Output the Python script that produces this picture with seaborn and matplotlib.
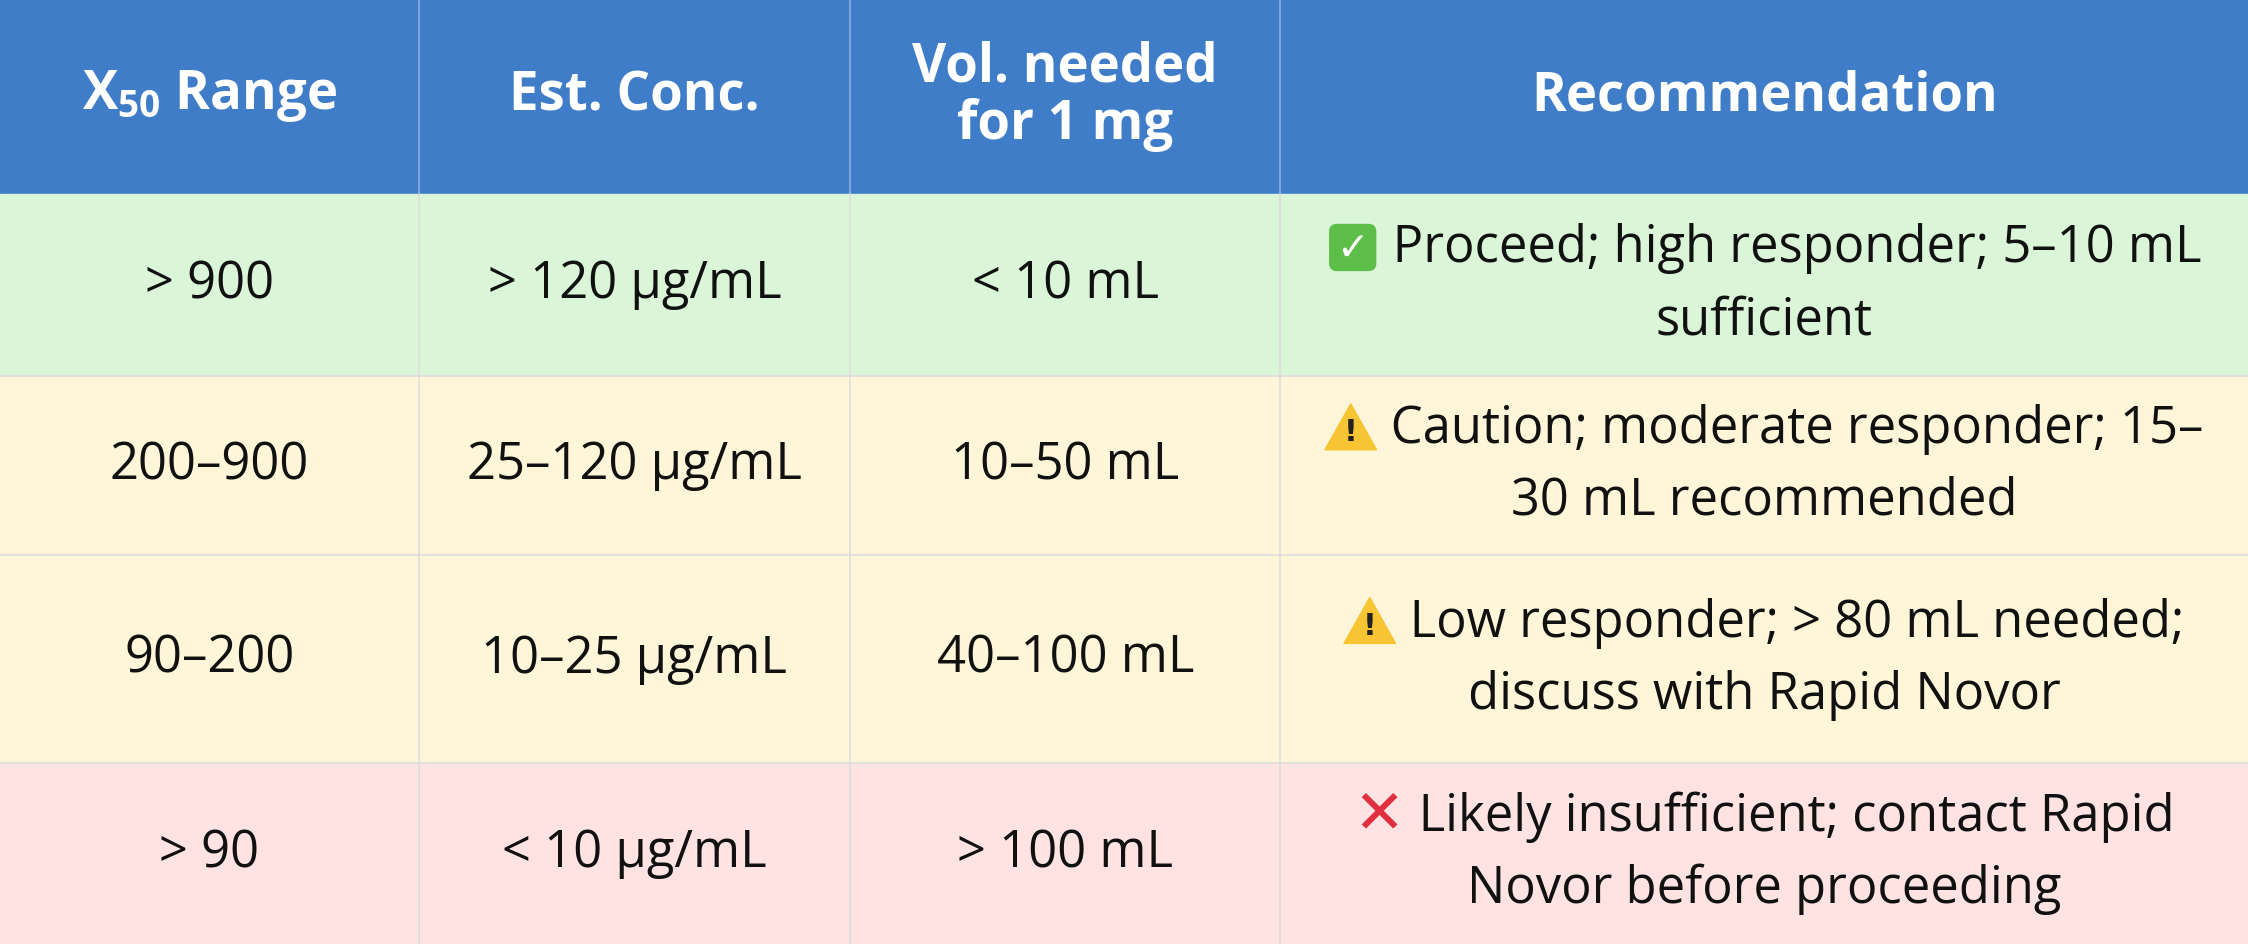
import matplotlib
matplotlib.use("Agg")
import matplotlib.pyplot as plt
import seaborn as sns
from matplotlib.patches import Rectangle, FancyBboxPatch, Polygon

sns.set_theme(style="white")
plt.rcParams['font.family'] = ['Open Sans', 'DejaVu Sans']
plt.rcParams['mathtext.fontset'] = 'custom'
plt.rcParams['mathtext.rm'] = 'Open Sans:bold'
plt.rcParams['mathtext.default'] = 'rm'

headers = ["X$_{50}$ Range", "Est. Conc.", "Vol. needed\nfor 1 mg", "Recommendation"]
x50 = ["> 900", "200–900", "90–200", "> 90"]
conc = ["> 120 µg/mL", "25–120 µg/mL", "10–25 µg/mL", "< 10 µg/mL"]
vol = ["< 10 mL", "10–50 mL", "40–100 mL", "> 100 mL"]
icons = ["check", "warn", "warn", "cross"]
rec = [["Proceed; high responder; 5–10 mL", "sufficient"],
       ["Caution; moderate responder; 15–", "30 mL recommended"],
       ["Low responder; > 80 mL needed;", "discuss with Rapid Novor"],
       ["Likely insufficient; contact Rapid", "Novor before proceeding"]]
row_colors = ["#DAF5D8", "#FFF6DA", "#FFF6DA", "#FFE3E3"]

col_edges = [0, 292, 593, 893, 1568]
row_edges = [0, 135, 262, 387, 532, 658]

fig = plt.figure(figsize=(22.48, 9.44), dpi=100)
ax = fig.add_axes([0, 0, 1, 1])
ax.set_xlim(0, 1568)
ax.set_ylim(658, 0)
ax.axis("off")

FS = 36.5
HFS = 38
ax.add_patch(Rectangle((0, 0), 1568, 135, color="#3F7DC8", zorder=0))
for j, h in enumerate(headers):
    cx = (col_edges[j] + col_edges[j+1]) / 2
    ax.text(cx, 67, h, ha="center", va="center", fontsize=HFS, fontweight="bold",
            color="white", linespacing=1.1)
for j in range(1, 4):
    ax.plot([col_edges[j]]*2, [0, 135], color="#7FA6DA", lw=1.5)

cols = [x50, conc, vol]
fig.canvas.draw()
r = fig.canvas.get_renderer()
inv = ax.transData.inverted()
for i in range(4):
    y0, y1 = row_edges[i+1], row_edges[i+2]
    ax.add_patch(Rectangle((0, y0), 1568, y1 - y0, color=row_colors[i], zorder=0))
    cy = (y0 + y1) / 2
    for j in range(3):
        cx = (col_edges[j] + col_edges[j+1]) / 2
        ax.text(cx, cy, cols[j][i], ha="center", va="center", fontsize=FS, color="#111111")
    cx = (893 + 1568) / 2
    l1 = "     " + rec[i][0]
    t = ax.text(cx, cy - 25, l1, ha="center", va="center", fontsize=FS, color="#111111")
    ax.text(cx, cy + 25, rec[i][1], ha="center", va="center", fontsize=FS, color="#111111")
    bb = t.get_window_extent(renderer=r)
    xl = inv.transform((bb.x0, bb.y0))[0]
    ix = xl + 18
    iy = cy - 26
    if icons[i] == "check":
        ax.add_patch(FancyBboxPatch((ix - 16, iy - 16), 32, 32, boxstyle="round,pad=0,rounding_size=5",
                                    color="#5DBE4A", zorder=3))
        ax.text(ix, iy + 1, "✓", ha="center", va="center", fontsize=28, color="white",
                fontweight="bold", family="DejaVu Sans", zorder=4)
    elif icons[i] == "warn":
        ax.add_patch(Polygon([(ix - 18, iy + 15), (ix + 18, iy + 15), (ix, iy - 17)], closed=True,
                             color="#F7C433", joinstyle="round", zorder=3))
        ax.text(ix, iy + 3, "!", ha="center", va="center", fontsize=22, color="#222222",
                fontweight="bold", family="DejaVu Sans", zorder=4)
    else:
        ax.text(ix, iy, "✕", ha="center", va="center", fontsize=44, color="#E0303F",
                fontweight="bold", family="DejaVu Sans", zorder=4)

for j in range(1, 4):
    ax.plot([col_edges[j]]*2, [135, 658], color="#DDDDDD", lw=1.2)
for y in row_edges[2:5]:
    ax.plot([0, 1568], [y, y], color="#DDDDDD", lw=1.2)

fig.savefig("out.png", dpi=100)
